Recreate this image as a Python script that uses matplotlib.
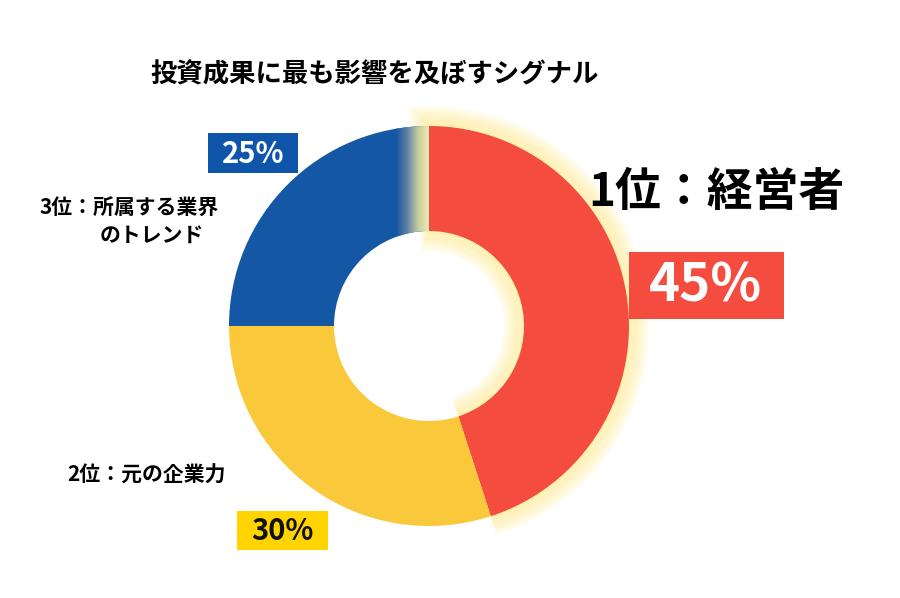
import numpy as np
import matplotlib
matplotlib.use("Agg")
import matplotlib.pyplot as plt
from matplotlib.patches import Wedge, Rectangle
from matplotlib.colors import LinearSegmentedColormap

plt.rcParams['font.family'] = ['Noto Sans CJK JP', 'DejaVu Sans']

# data
title = '投資成果に最も影響を及ぼすシグナル'
labels = ['1位：経営者', '2位：元の企業力', '3位：所属する業界\nのトレンド']
values = [45, 30, 25]
pct_labels = ['45%', '30%', '25%']
colors = ['#F44C3F', '#F9C83B', '#1457A5']

fig = plt.figure(figsize=(9, 5.98), dpi=100)
ax = fig.add_axes([0, 0, 1, 1])

cx, cy, R, W = 429, 272, 200, 105
wedges, _ = ax.pie(values, colors=colors, startangle=90, counterclock=False,
                   center=(cx, cy), radius=R,
                   wedgeprops=dict(width=W, linewidth=0), normalize=True)
for w in wedges:
    w.set_zorder(3)

# soft glow behind the red slice
red = wedges[0]
for k in range(16, 0, -1):
    g = Wedge((cx, cy), R + k * 1.3, red.theta1, red.theta2 + k * 0.35,
              width=W + k * 2.6, facecolor='#FFF2A0', alpha=0.08, lw=0, zorder=2)
    ax.add_patch(g)

# fade of the blue slice towards the top
cmap = LinearSegmentedColormap.from_list('fade', ['#1457A5', '#5F80A6', '#C5CC9E', '#EDEBB5'])
grad = np.linspace(0, 1, 200).reshape(1, -1)
im = ax.imshow(grad, cmap=cmap, extent=[396, cx, cy, cy + R + 5], aspect='auto',
               zorder=4, interpolation='bicubic')
im.set_clip_path(wedges[2])

ax.set_xlim(0, 900)
ax.set_ylim(0, 598)
ax.set_aspect('equal')
ax.axis('off')

ax.text(375, 598 - 75, title, ha='center', va='center', fontsize=19, fontweight='bold')

# 1st
ax.text(588, 598 - 193, labels[0], ha='left', va='center', fontsize=33, fontweight='bold')
ax.add_patch(Rectangle((629, 598 - 319), 155, 67, facecolor=colors[0], lw=0, zorder=5))
ax.text(706, 598 - 286, pct_labels[0], ha='center', va='center', fontsize=38,
        fontweight='bold', color='white', zorder=6)

# 2nd
ax.text(67, 598 - 475, labels[1], ha='left', va='center', fontsize=15, fontweight='bold')
ax.add_patch(Rectangle((237, 598 - 550), 91, 39, facecolor='#FFD400', lw=0, zorder=5))
ax.text(282.5, 598 - 531, pct_labels[1], ha='center', va='center', fontsize=21,
        fontweight='bold', color='#111111', zorder=6)

# 3rd
line1, line2 = labels[2].split('\n')
ax.text(40, 598 - 208, line1, ha='left', va='center', fontsize=15, fontweight='bold')
ax.text(100, 598 - 235, line2, ha='left', va='center', fontsize=15, fontweight='bold')
ax.add_patch(Rectangle((208, 598 - 173), 90, 40, facecolor='#0F55AA', lw=0, zorder=5))
ax.text(253, 598 - 154, pct_labels[2], ha='center', va='center', fontsize=21,
        fontweight='bold', color='white', zorder=6)

fig.savefig('out.png', dpi=100)
